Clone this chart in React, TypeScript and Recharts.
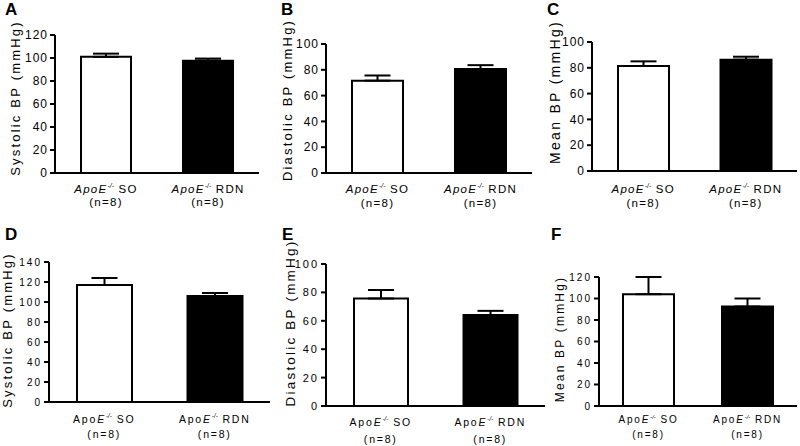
import React from 'react';
import { BarChart, Bar, XAxis, YAxis, ErrorBar, Cell } from 'recharts';

// ---- data ----
const groups = ['SO', 'RDN'];
const sampleSizes = ['(n=8)', '(n=8)'];
const panelLetters = ['A', 'B', 'C', 'D', 'E', 'F'];
const yTitles = [
  'Systolic BP (mmHg)',
  'Diastolic BP (mmHg)',
  'Mean BP (mmHg)',
  'Systolic BP (mmHg)',
  'Diastolic BP (mmHg)',
  'Mean BP (mmHg)',
];
const meanA = [101, 97.7];
const semA = [2.8, 1.8];
const meanB = [71.6, 80.6];
const semB = [4, 3];
const meanC = [81.4, 86.3];
const semC = [3.6, 2.3];
const meanD = [117, 106];
const semD = [7, 3];
const meanE = [75.7, 64];
const semE = [6, 3];
const meanF = [104, 92.5];
const semF = [16, 7.5];
const yMaxes = [120, 100, 100, 140, 100, 120];
const barFills = ['#ffffff', '#000000'];

const means = [meanA, meanB, meanC, meanD, meanE, meanF];
const sems = [semA, semB, semC, semD, semE, semF];

const FONT = '"Liberation Sans", Arial, Helvetica, sans-serif';

// ---- layout (pixel positions of each panel) ----
type Layout = {
  left: number; top: number; h: number;
  axisX: number; yTop: number; yZero: number; axisEnd: number;
  barSize: number;
  letterX: number; letterY: number;
  titleX: number; titleY: number;
  tickFs: number; tickLs: number;
  titleFs: number; titleLs: number;
  xFs: number; xLs: number; dy1: number; dy2: number;
  italicApo: boolean;
};

const layouts: Layout[] = [
  { left: 0, top: 0, h: 220, axisX: 55, yTop: 35, yZero: 173, axisEnd: 259, barSize: 50, letterX: 5, letterY: 15, titleX: 15, titleY: 98, tickFs: 12, tickLs: 1, titleFs: 13, titleLs: 2.2, xFs: 11.5, xLs: 1.3, dy1: 20, dy2: 33, italicApo: true },
  { left: 265, top: 0, h: 220, axisX: 326, yTop: 44, yZero: 173, axisEnd: 532, barSize: 51, letterX: 281, letterY: 15, titleX: 287, titleY: 100, tickFs: 12, tickLs: 1, titleFs: 13, titleLs: 2.2, xFs: 11.5, xLs: 1.3, dy1: 20, dy2: 34, italicApo: true },
  { left: 530, top: 0, h: 220, axisX: 592, yTop: 42, yZero: 171, axisEnd: 797, barSize: 51, letterX: 547, letterY: 15, titleX: 555, titleY: 92, tickFs: 12, tickLs: 1, titleFs: 14, titleLs: 2.3, xFs: 11.5, xLs: 1.3, dy1: 22, dy2: 36, italicApo: true },
  { left: 0, top: 220, h: 226, axisX: 49, yTop: 262, yZero: 402, axisEnd: 270, barSize: 55, letterX: 5, letterY: 240, titleX: 7, titleY: 330, tickFs: 10, tickLs: 2, titleFs: 13, titleLs: 2.2, xFs: 10.5, xLs: 1.8, dy1: 21, dy2: 36, italicApo: false },
  { left: 265, top: 220, h: 226, axisX: 326, yTop: 264, yZero: 406, axisEnd: 545, barSize: 54, letterX: 282, letterY: 240, titleX: 290, titleY: 323, tickFs: 11, tickLs: 2, titleFs: 13.5, titleLs: 2.2, xFs: 10.5, xLs: 1.8, dy1: 20, dy2: 37, italicApo: false },
  { left: 530, top: 220, h: 226, axisX: 599, yTop: 277, yZero: 406, axisEnd: 797, barSize: 51, letterX: 551, letterY: 240, titleX: 560, titleY: 339, tickFs: 10, tickLs: 2, titleFs: 12, titleLs: 2.2, xFs: 10, xLs: 1.8, dy1: 17, dy2: 32, italicApo: false },
];

const X_AXIS_H = 40;

function makeXTick(L: Layout) {
  return (props: any) => {
    const { x, payload, index } = props;
    const baseY = L.yZero - L.top;
    const fs = L.xFs;
    return (
      <g>
        <text
          x={x}
          y={baseY + L.dy1}
          textAnchor="middle"
          fontSize={fs}
          letterSpacing={L.xLs}
          fontFamily={FONT}
          fill="#000"
        >
          <tspan fontStyle={L.italicApo ? 'italic' : 'normal'}>Apo</tspan>
          <tspan fontStyle="italic">E</tspan>
          <tspan fontStyle="italic" fontSize={fs * 0.6} dy={-fs * 0.45} letterSpacing={0}>-/-</tspan>
          <tspan dy={fs * 0.45}>{'\u00a0' + payload.value}</tspan>
        </text>
        <text
          x={x}
          y={baseY + L.dy2}
          textAnchor="middle"
          fontSize={fs}
          letterSpacing={L.xLs}
          fontFamily={FONT}
          fill="#000"
        >
          {sampleSizes[index]}
        </text>
      </g>
    );
  };
}

function Panel({ idx }: { idx: number }) {
  const L = layouts[idx];
  const max = yMaxes[idx];
  const step = 20;
  const ticks: number[] = [];
  for (let v = 0; v <= max; v += step) ticks.push(v);
  const data = groups.map((g, i) => ({
    name: g,
    value: means[idx][i],
    err: [0, sems[idx][i]],
  }));
  const width = L.axisEnd - L.left;
  const height = L.h;
  const margin = {
    top: L.yTop - L.top,
    right: 0,
    left: 0,
    bottom: height - (L.yZero - L.top) - X_AXIS_H,
  };
  const title = yTitles[idx];
  return (
    <div style={{ position: 'absolute', left: L.left, top: L.top, width, height }}>
      <BarChart width={width} height={height} data={data} margin={margin}>
        <XAxis
          dataKey="name"
          height={X_AXIS_H}
          axisLine={{ stroke: '#000', strokeWidth: 2 }}
          tickLine={false}
          tickSize={0}
          tickMargin={0}
          interval={0}
          tick={makeXTick(L)}
        />
        <YAxis
          width={L.axisX - L.left}
          domain={[0, max]}
          ticks={ticks}
          interval={0}
          axisLine={{ stroke: '#000', strokeWidth: 2 }}
          tickLine={{ stroke: '#000', strokeWidth: 2 }}
          tickSize={5}
          tickMargin={2}
          tick={{ fontSize: L.tickFs, fill: '#000', fontFamily: FONT, letterSpacing: L.tickLs } as any}
          label={{
            content: () => (
              <text
                transform={`translate(${L.titleX - L.left},${L.titleY - L.top}) rotate(-90)`}
                textAnchor="middle"
                dominantBaseline="central"
                fontSize={L.titleFs}
                letterSpacing={L.titleLs}
                fontFamily={FONT}
                fill="#000"
              >
                {title}
              </text>
            ),
          } as any}
        />
        <Bar dataKey="value" barSize={L.barSize} stroke="#000" strokeWidth={2} isAnimationActive={false}>
          {data.map((d, i) => (
            <Cell key={d.name} fill={barFills[i]} />
          ))}
          <ErrorBar dataKey="err" direction="y" width={13} stroke="#000" strokeWidth={2} isAnimationActive={false} />
        </Bar>
      </BarChart>
      <div
        style={{
          position: 'absolute',
          left: L.letterX - L.left,
          top: L.letterY - L.top - 14,
          fontFamily: FONT,
          fontWeight: 'bold',
          fontSize: 17,
          lineHeight: '17px',
          color: '#000',
        }}
      >
        {panelLetters[idx]}
      </div>
    </div>
  );
}

export default function App() {
  return (
    <div
      style={{
        position: 'absolute',
        left: 0,
        top: 0,
        width: 800,
        height: 446,
        background: '#fff',
        overflow: 'hidden',
      }}
    >
      {layouts.map((_, i) => (
        <Panel key={i} idx={i} />
      ))}
    </div>
  );
}
